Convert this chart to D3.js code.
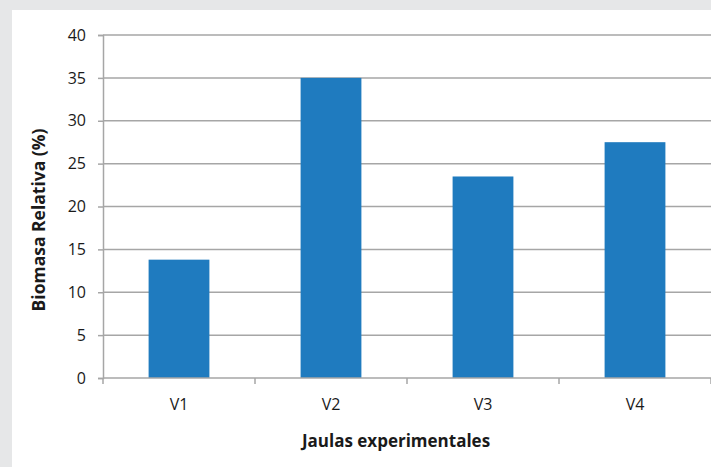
<!DOCTYPE html>
<html>
<head>
<meta charset="utf-8">
<script src="https://cdn.jsdelivr.net/npm/d3@7"></script>
<style>
  html, body { margin: 0; padding: 0; background: #e6e7e8; }
  svg { display: block; }
  text { font-family: "Open Sans", "Liberation Sans", sans-serif; fill: #1a1a1a; }
</style>
</head>
<body>
<svg id="chart" width="711" height="467"></svg>
<script>
// Biomasa relativa por jaula experimental
const categories = ["V1", "V2", "V3", "V4"];
const values = [13.8, 35, 23.5, 27.5];
const yTicks = [0, 5, 10, 15, 20, 25, 30, 35, 40];
const xTitle = "Jaulas experimentales";
const yTitle = "Biomasa Relativa (%)";

const W = 711, H = 467;
const margin = { left: 103, right: 0, top: 35, bottom: 89 };
const svg = d3.select("#chart");

// white panel over the grey page
svg.append("rect").attr("x", 12).attr("y", 10).attr("width", W - 12).attr("height", H - 10).attr("fill", "#ffffff");

const x = d3.scaleBand().domain(categories).range([margin.left, W - margin.right]).paddingInner(0).paddingOuter(0);
const y = d3.scaleLinear().domain([0, 40]).range([H - margin.bottom, margin.top]);

// value axis with left tick marks
const yAxis = d3.axisLeft(y).tickValues(yTicks).tickSize(5).tickPadding(12).tickFormat(d3.format("d"));
const gy = svg.append("g").attr("transform", `translate(${margin.left},0)`).call(yAxis);
gy.select(".domain").attr("stroke", "#a6a6a6").attr("stroke-width", 1.5);
gy.selectAll(".tick line").attr("stroke", "#a6a6a6").attr("stroke-width", 1.5);
gy.selectAll(".tick text").style("font-size", "16px").attr("fill", "#1a1a1a");

// horizontal gridlines
const grid = svg.append("g");
grid.selectAll("line").data(yTicks.filter(d => d > 0)).join("line")
  .attr("x1", margin.left).attr("x2", W - margin.right)
  .attr("y1", d => y(d)).attr("y2", d => y(d))
  .attr("stroke", "#a6a6a6").attr("stroke-width", 1.5);

// bars
const barW = x.bandwidth() * 0.4;
svg.append("g").selectAll("rect").data(values).join("rect")
  .attr("x", (d, i) => x(categories[i]) + (x.bandwidth() - barW) / 2)
  .attr("width", barW)
  .attr("y", d => y(d))
  .attr("height", d => y(0) - y(d))
  .attr("fill", "#1f7bbf");

// category axis with boundary ticks
const gx = svg.append("g").attr("transform", `translate(0,${y(0)})`);
gx.append("line").attr("x1", margin.left).attr("x2", W - margin.right).attr("y1", 0).attr("y2", 0)
  .attr("stroke", "#a6a6a6").attr("stroke-width", 1.5);
const bounds = categories.map(c => x(c)).concat([x(categories[categories.length - 1]) + x.bandwidth()]);
gx.selectAll("line.b").data(bounds).join("line").attr("class", "b")
  .attr("x1", d => d).attr("x2", d => d).attr("y1", 0).attr("y2", 6)
  .attr("stroke", "#a6a6a6").attr("stroke-width", 1.5);
gx.selectAll("text").data(categories).join("text")
  .attr("x", d => x(d) + x.bandwidth() / 2)
  .attr("y", 32)
  .attr("text-anchor", "middle")
  .style("font-size", "16px")
  .text(d => d);

// axis titles
svg.append("text")
  .attr("x", 396).attr("y", 447)
  .attr("text-anchor", "middle")
  .style("font-size", "17px").style("font-weight", "bold")
  .text(xTitle);

svg.append("text")
  .attr("transform", `translate(45,220) rotate(-90)`)
  .attr("text-anchor", "middle")
  .style("font-size", "17.5px").style("font-weight", "bold")
  .text(yTitle);
</script>
</body>
</html>
